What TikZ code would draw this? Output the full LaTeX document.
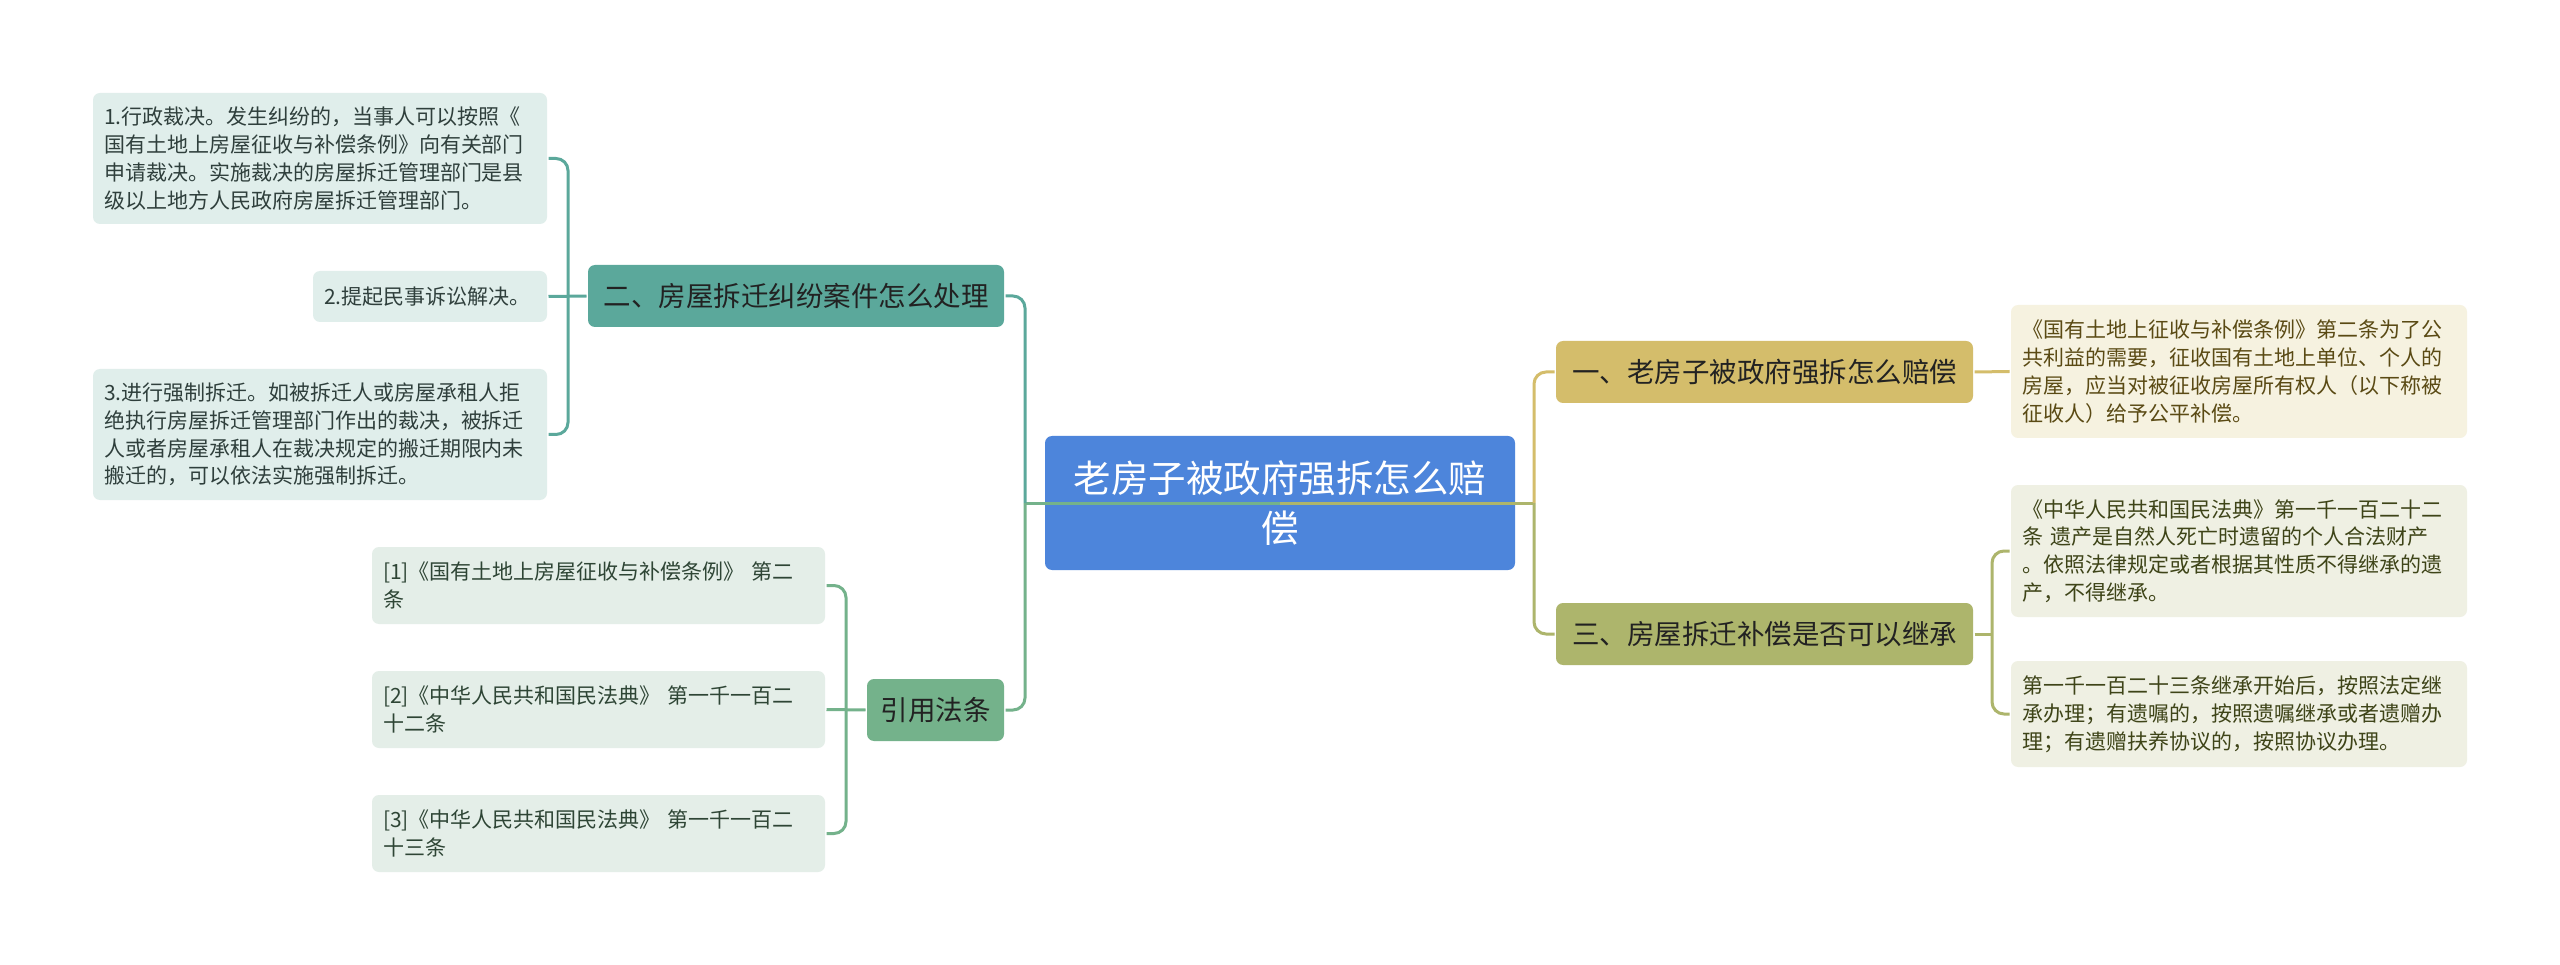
\documentclass[tikz,border=0pt]{standalone}
\usepackage{fontspec}
\setmainfont{Noto Sans CJK SC}
\usepackage{tikz}

\definecolor{mainblue}{HTML}{4D85DB}
\definecolor{disputecol}{HTML}{5BA89B}
\definecolor{lawcol}{HTML}{74B28B}
\definecolor{paycol}{HTML}{D4BD6B}
\definecolor{inheritcol}{HTML}{ADB56C}
\definecolor{dleafcol}{HTML}{E0EEEB}
\definecolor{rleafcol}{HTML}{E4EEE8}
\definecolor{pleafcol}{HTML}{F6F2E0}
\definecolor{ileafcol}{HTML}{EFF0E3}
\definecolor{topictext}{HTML}{222222}
\definecolor{dleaftext}{HTML}{2F3F3C}
\definecolor{rleaftext}{HTML}{2E4535}
\definecolor{pleaftext}{HTML}{5A4A14}
\definecolor{ileaftext}{HTML}{3E4418}

\begin{document}
\begin{tikzpicture}[x=1pt, y=-1pt, line width=3pt,
    box/.style={rounded corners=7pt, inner ysep=0pt},
    mainbox/.style={box, fill=mainblue, text=white, align=center, inner xsep=14pt,
      text width=442pt, minimum height=134pt, font=\fontsize{37.5}{50}\selectfont},
    topic/.style={box, inner xsep=0pt, minimum height=62pt, text=topictext,
      font=\fontsize{27.5}{33}\selectfont},
    leaf/.style={box, align=left, inner xsep=11pt, font=\fontsize{21}{27.8}\selectfont},
    dleaf/.style={leaf, fill=dleafcol, text=dleaftext},
    rleaf/.style={leaf, fill=rleafcol, text=rleaftext, text width=431pt, minimum height=77pt},
    pleaf/.style={leaf, fill=pleafcol, text=pleaftext, text width=434pt},
    ileaf/.style={leaf, fill=ileafcol, text=ileaftext, text width=434pt},
    link/.style={rounded corners=12pt}]
\fill[white] (0,0) rectangle (2560,965);
\useasboundingbox (0,0) rectangle (2560,965);

% centre et branches
\node[mainbox] (Main) at (1280,503) {老房子被政府强拆怎么赔\\偿};
\node[topic, fill=disputecol, minimum width=416pt] (Dispute) at (796,296) {二、房屋拆迁纠纷案件怎么处理};
\node[topic, fill=lawcol, minimum width=137pt] (Law) at (935.5,710) {引用法条};
\node[topic, fill=paycol, minimum width=417pt] (Pay) at (1764.5,372) {一、老房子被政府强拆怎么赔偿};
\node[topic, fill=inheritcol, minimum width=417pt] (Inherit) at (1764.5,634) {三、房屋拆迁补偿是否可以继承};

% feuilles gauche
\node[dleaf, text width=432pt, minimum height=131pt] (Ruling) at (320,158.5)
  {1.行政裁决。发生纠纷的，当事人可以按照《\\国有土地上房屋征收与补偿条例》向有关部门\\申请裁决。实施裁决的房屋拆迁管理部门是县\\级以上地方人民政府房屋拆迁管理部门。};
\node[dleaf, text width=212pt, minimum height=51pt] (Lawsuit) at (430,296.5) {2.提起民事诉讼解决。};
\node[dleaf, text width=432pt, minimum height=131pt] (Force) at (320,434.5)
  {3.进行强制拆迁。如被拆迁人或房屋承租人拒\\绝执行房屋拆迁管理部门作出的裁决，被拆迁\\人或者房屋承租人在裁决规定的搬迁期限内未\\搬迁的，可以依法实施强制拆迁。};
\node[rleaf] (RefA) at (598.5,585.5) {[1]《国有土地上房屋征收与补偿条例》 第二\\条};
\node[rleaf] (RefB) at (598.5,709.5) {[2]《中华人民共和国民法典》 第一千一百二\\十二条};
\node[rleaf] (RefC) at (598.5,833.5) {[3]《中华人民共和国民法典》 第一千一百二\\十三条};

% feuilles droite
\node[pleaf, minimum height=133pt] (PayText) at (2239,371.5)
  {《国有土地上征收与补偿条例》第二条为了公\\共利益的需要，征收国有土地上单位、个人的\\房屋，应当对被征收房屋所有权人（以下称被\\征收人）给予公平补偿。};
\node[ileaf, minimum height=132pt] (Estate) at (2239,551)
  {《中华人民共和国民法典》第一千一百二十二\\条 遗产是自然人死亡时遗留的个人合法财产\\。依照法律规定或者根据其性质不得继承的遗\\产，不得继承。};
\node[ileaf, minimum height=106pt] (Succession) at (2239,714)
  {第一千一百二十三条继承开始后，按照法定继\\承办理；有遗嘱的，按照遗嘱继承或者遗赠办\\理；有遗赠扶养协议的，按照协议办理。};

\coordinate (LeftFork) at (1025,503);
\coordinate (RightFork) at (1534,503);
\coordinate (DisputeFork) at (568,296);
\coordinate (LawFork) at (846,710);
\coordinate (InheritFork) at (1992,634);

% liens
\draw[lawcol] (Main.center) -- (LeftFork);
\draw[inheritcol] (Main.center) -- (RightFork);
\draw[disputecol, link] (Dispute.east) -| (LeftFork);
\draw[lawcol, link] (Law.east) -| (LeftFork);
\draw[paycol, link] (Pay.west) -| (RightFork);
\draw[inheritcol, link] (Inherit.west) -| (RightFork);

\draw[disputecol] (Dispute.west) -- (Lawsuit.east);
\draw[disputecol, link] (Ruling.east) -| (DisputeFork) |- (Force.east);
\draw[lawcol] (Law.west) -- (RefB.east);
\draw[lawcol, link] (RefA.east) -| (LawFork) |- (RefC.east);
\draw[paycol] (Pay.east) -- (PayText.west);
\draw[inheritcol] (Inherit.east) -- (InheritFork);
\draw[inheritcol, link] (Estate.west) -| (InheritFork) |- (Succession.west);
\end{tikzpicture}
\end{document}
